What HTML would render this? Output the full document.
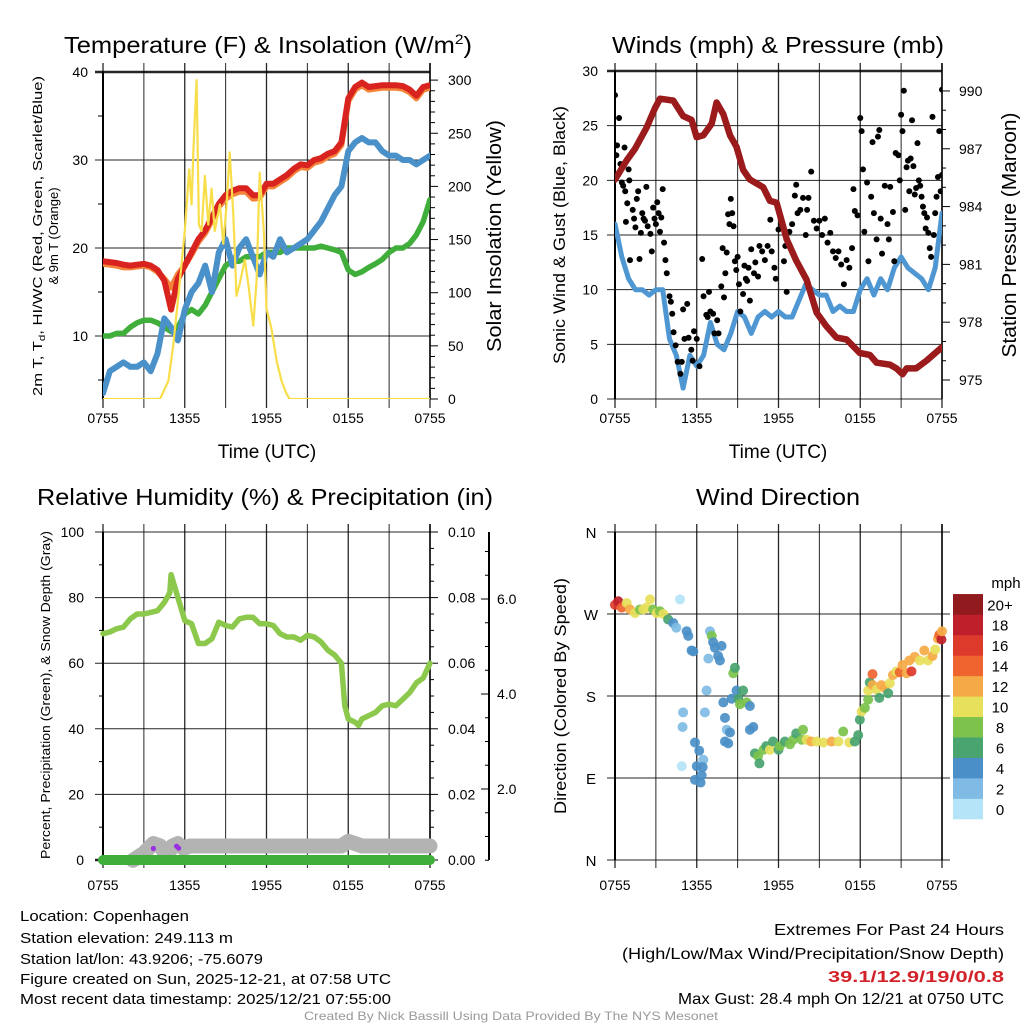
<!DOCTYPE html>
<html><head><meta charset="utf-8"><title>Station Meteogram</title>
<style>
html,body{margin:0;padding:0;background:#fff;}
svg{display:block;font-family:"Liberation Sans",Arial,sans-serif;}
</style></head>
<body>
<svg id="fig" width="1024" height="1024" viewBox="0 0 1024 1024" xmlns="http://www.w3.org/2000/svg">
<defs>
<clipPath id="cTL"><rect x="103" y="72" width="327" height="327"/></clipPath>
<clipPath id="cTR"><rect x="615" y="71" width="327" height="328"/></clipPath>
<clipPath id="cBL"><rect x="90" y="532" width="352" height="336"/></clipPath>
<clipPath id="cBR"><rect x="608" y="532" width="340" height="328"/></clipPath>
</defs>
<rect width="1024" height="1024" fill="#fff"/>

<text x="268" y="53" font-size="23" text-anchor="middle" textLength="408" lengthAdjust="spacingAndGlyphs">Temperature (F) &amp; Insolation (W/m<tspan font-size="14" dy="-9">2</tspan><tspan dy="9">)</tspan></text>
<text x="778" y="53" font-size="23" text-anchor="middle" textLength="332" lengthAdjust="spacingAndGlyphs">Winds (mph) &amp; Pressure (mb)</text>
<text x="265" y="505" font-size="23" text-anchor="middle" textLength="456" lengthAdjust="spacingAndGlyphs">Relative Humidity (%) &amp; Precipitation (in)</text>
<text x="778" y="505" font-size="23" text-anchor="middle" textLength="164" lengthAdjust="spacingAndGlyphs">Wind Direction</text>

<g id="TL"></g>
<g id="TR"></g>
<g id="BL"></g>
<g id="BR"></g>

<!-- axis titles -->
<text transform="translate(42,236) rotate(-90)" font-size="13" text-anchor="middle" textLength="320" lengthAdjust="spacingAndGlyphs">2m T, T<tspan font-size="9" dy="3">d</tspan><tspan dy="-3">, HI/WC (Red, Green, Scarlet/Blue)</tspan></text>
<text transform="translate(58,236) rotate(-90)" font-size="13" text-anchor="middle">&amp; 9m T (Orange)</text>
<text transform="translate(501,236) rotate(-90)" font-size="20" text-anchor="middle" textLength="232" lengthAdjust="spacingAndGlyphs">Solar Insolation (Yellow)</text>
<text x="267" y="458" font-size="19" text-anchor="middle">Time (UTC)</text>
<text transform="translate(565,235) rotate(-90)" font-size="17" text-anchor="middle" textLength="258" lengthAdjust="spacingAndGlyphs">Sonic Wind &amp; Gust (Blue, Black)</text>
<text transform="translate(1016,235) rotate(-90)" font-size="20" text-anchor="middle" textLength="245" lengthAdjust="spacingAndGlyphs">Station Pressure (Maroon)</text>
<text x="778" y="458" font-size="19" text-anchor="middle">Time (UTC)</text>
<text transform="translate(50,695) rotate(-90)" font-size="13" text-anchor="middle" textLength="328" lengthAdjust="spacingAndGlyphs">Percent, Precipitation (Green), &amp; Snow Depth (Gray)</text>
<text transform="translate(566,696) rotate(-90)" font-size="17" text-anchor="middle" textLength="236" lengthAdjust="spacingAndGlyphs">Direction (Colored By Speed)</text>

<!-- footer -->
<g font-size="15">
<text x="20" y="921" textLength="169" lengthAdjust="spacingAndGlyphs">Location: Copenhagen</text>
<text x="20" y="943" textLength="213" lengthAdjust="spacingAndGlyphs">Station elevation: 249.113 m</text>
<text x="20" y="964" textLength="243" lengthAdjust="spacingAndGlyphs">Station lat/lon: 43.9206; -75.6079</text>
<text x="20" y="984" textLength="371" lengthAdjust="spacingAndGlyphs">Figure created on Sun, 2025-12-21, at 07:58 UTC</text>
<text x="20" y="1004" textLength="371" lengthAdjust="spacingAndGlyphs">Most recent data timestamp: 2025/12/21 07:55:00</text>
</g>
<g font-size="16" text-anchor="end">
<text x="1004" y="935" textLength="230" lengthAdjust="spacingAndGlyphs">Extremes For Past 24 Hours</text>
<text x="1004" y="959" textLength="382" lengthAdjust="spacingAndGlyphs">(High/Low/Max Wind/Precipitation/Snow Depth)</text>
<text x="1004" y="982" fill="#d32229" font-weight="bold" textLength="176" lengthAdjust="spacingAndGlyphs">39.1/12.9/19/0/0.8</text>
<text x="1004" y="1004" textLength="326" lengthAdjust="spacingAndGlyphs">Max Gust: 28.4 mph On 12/21 at 0750 UTC</text>
</g>
<text x="511" y="1020" font-size="12" fill="#999" text-anchor="middle" textLength="414" lengthAdjust="spacingAndGlyphs">Created By Nick Bassill Using Data Provided By The NYS Mesonet</text>
</svg>

<script>
// ---------- DATA ----------
const timeLabels = ["0755","1355","1955","0155","0755"];
const halfHours = Array.from({length:49},(_, i)=>i*0.5);

const tempRed = [18.5,18.4,18.3,18.1,18,18.1,18.2,18,17.5,16.3,13,16.5,18,19.5,21,22,23.5,25,26,26.5,26.8,26.8,26,26,27.3,27.3,27.8,28.3,29,29.5,29.4,30,30.2,30.7,31,32,37,38.3,38.8,38.3,38.4,38.5,38.5,38.5,38.4,38,37.3,38.3,38.5];
const temp9mOrange = [18.2,18.1,18,17.8,17.8,17.9,18,17.8,17.3,16.5,15.5,17,18,19.3,20.7,21.7,23.2,24.7,25.6,26.1,26.4,26.4,25.6,25.7,27,27,27.5,28,28.7,29.2,29.1,29.7,29.9,30.4,30.7,31.7,36.7,38,38.5,38,38.1,38.2,38.2,38.2,38.1,37.7,37,38,38.2];
const dewGreen = [10,10,10.3,10.3,11,11.5,11.8,11.8,11.5,11,10.5,11,12.5,13,12.5,13.5,15,16.5,18,18.5,18.5,19,19,19,19.5,19.5,19.5,20,20,20,20,20,20.2,20,19.8,19.5,17.5,17,17.3,17.8,18.2,18.7,19.5,20,20,20.5,21.5,23,25.5];
const windChillBlue = [3.5,6,6.5,7,6.5,6.5,7,6,8,12,11,9.5,13,15,16,18,15,19.5,21,18,20,21,19,17,19.5,19,21,19.5,20,20.5,21,22,23,24.5,26,27,31,32,32.5,32,32,31,30.5,30.5,30,30,29.5,30,30.5];

const solarT = [0,4.18,4.8,5.16,5.65,6.0,6.33,6.5,6.63,6.87,7.04,7.24,7.48,7.73,7.97,8.2,8.58,8.83,9.07,9.3,9.56,9.8,10.05,10.4,10.66,11.03,11.27,11.5,11.8,12.0,12.37,12.74,13.1,13.47,13.7,24];
const solarV = [0,0,17,51,112,158,216,183,232,300,164,158,210,164,198,158,183,146,183,232,174,97,109,131,109,69,112,213,158,85,66,36,17,5,0,0];

const windBlue = [16,13,11,10,10,9.5,10,10,5.5,4,1,4,3,4,7,5,4.5,6,8,7.5,6,7.5,8,7.5,8,7.5,7.5,9,10.5,10,9.5,9.5,8,8.5,8,8,10,11,9.5,11,10,12,13,12,11.5,11,10,12,17];

const pressT = [0,0.86,1.47,2.32,2.93,3.3,4.28,5.0,5.62,5.99,6.48,7.1,7.46,7.95,8.44,8.92,9.41,9.9,10.88,11.37,11.86,12.6,13.3,14.06,14.8,15.5,16.26,17.0,17.97,18.7,19.2,20.17,20.66,21.1,21.4,22.1,22.86,24];
const pressV = [985.4,986.4,987.0,988.1,989.1,989.6,989.5,988.7,988.5,987.6,987.7,988.3,989.4,988.8,987.7,987.1,985.9,985.4,985.0,984.3,984.2,982.3,981.2,980.2,978.5,977.8,977.2,977.1,976.4,976.3,975.9,975.8,975.6,975.3,975.6,975.6,976.0,976.7];

const gustT = [0,0.1,0.15,0.3,0.4,0.5,0.6,0.7,0.75,0.8,0.9,1.0,1.05,1.1,1.3,1.4,1.5,1.6,1.7,1.8,1.9,2.0,2.1,2.2,2.3,2.4,2.6,2.7,2.8,2.9,3.0,3.1,3.2,3.3,3.4,3.5,3.6,3.7,3.8,4.0,4.1,4.2,4.3,4.45,4.6,4.8,4.9,5.0,5.1,5.3,5.4,5.6,5.7,5.8,6.0,6.2,6.4,6.5,6.7,6.8,6.9,7.0,7.2,7.3,7.5,7.6,7.8,7.9,8.0,8.1,8.2,8.3,8.4,8.5,8.6,8.7,8.8,8.9,9.0,9.1,9.2,9.4,9.5,9.6,9.7,9.8,9.9,10.0,10.2,10.3,10.5,10.6,10.8,11.0,11.2,11.4,11.5,11.7,11.8,12.0,12.2,12.4,12.5,12.6,12.8,13.0,13.2,13.3,13.4,13.6,13.8,14.0,14.1,14.2,14.4,14.6,14.8,15.0,15.2,15.4,15.6,15.8,16.0,16.2,16.4,16.6,16.8,17.0,17.2,17.4,17.5,17.6,17.8,18.0,18.1,18.2,18.3,18.5,18.6,18.8,18.9,19.0,19.2,19.3,19.4,19.5,19.6,19.8,20.0,20.1,20.2,20.4,20.5,20.6,20.8,20.9,21.0,21.1,21.2,21.3,21.4,21.5,21.6,21.7,21.8,21.9,22.0,22.1,22.2,22.3,22.4,22.5,22.6,22.7,22.8,22.9,23.0,23.1,23.2,23.3,23.4,23.5,23.6,23.7,23.8,23.9,24.0,24.0];
const gustV = [27.8,22.3,23.2,25.7,21.5,19.8,19.5,23,19,16.2,17.9,21,20,12.7,17.3,16.5,15.7,18.3,19,12.8,15.2,17,16.5,16.3,19.4,15.8,15.1,13.5,17.5,16.5,16,18,17,15.3,16.6,19.2,14.3,12.7,11.5,9.4,8.9,7.8,6.1,4.9,3.4,2.3,3.4,8.2,5.5,8.7,5.6,4.5,3.5,6.2,5.5,3,12.8,9.4,7.7,7.5,9.8,8,7.8,6,7.2,6,10.3,13.8,9.3,11.5,13.4,16.9,16,18.3,17,15.8,12.6,11.8,13,10.5,8,9.6,12.2,11,10.8,12,9,13.7,11.5,12.5,11.2,14,13.5,12.7,14,16.4,13.5,12,11,15.5,16,12.6,14,9.8,15.3,16,18.6,19.6,17,17.3,18.4,15,17.3,18.4,20.8,16.3,15.6,16.3,15,16.5,14.3,15.2,13.5,12.9,13.5,12.3,10.5,12.7,12,13.8,19.2,17.2,16.8,25.7,24.5,21,15.3,19.8,12.6,18.5,23.5,17,14.6,24,24.6,16.5,13.3,19.5,16,14.6,19.4,17.1,12.6,22.5,22.3,20,26,24.5,28.2,17.3,21.2,21.8,19,22,25.5,21.3,18.7,19.3,23.4,20,19.5,18.5,17.6,17,15.6,16.6,15.2,13.8,13,25.8,15,17,18.5,20.3,24.5,19,28.3,20.5];

const rhT = [0,0.5,1,1.5,2,2.5,3,3.5,4,4.5,4.9,5,5.5,6,6.5,7,7.5,8,8.5,9,9.5,10,10.5,11,11.5,12,12.5,13,13.5,14,14.5,15,15.5,16,16.5,17,17.5,17.75,18,18.5,18.75,19,19.5,20,20.5,21,21.5,22,22.5,23,23.5,24];
const rhV = [69,69.5,70.5,71,73.5,75,75,75.5,76,78.5,81.5,87,80,73,72,66,66,67.5,72.5,71.5,71,73.5,74,74,72,72,71.5,69,68,68,67,68.5,68,66.5,64,62.5,60,47,43,42,41,43,44,45,47,47.5,47,49,51,54,55.5,60];

const snowT = [2.2,3.0,3.7,4.2,4.7,5.1,5.5,5.9,6.4,17.5,18.0,18.5,19.0,24];
const snowV = [0.5,0.65,0.85,0.8,0.6,0.8,0.85,0.75,0.8,0.8,0.9,0.85,0.8,0.8];
const precipT = [0,24];
const precipV = [0,0];
const purpleT = [3.7,5.4,5.55];
const purpleV = [3.5,4.2,3.6];

const dirT = [0,0.24,0.49,0.86,1.1,1.47,1.83,2.08,2.3,2.57,2.8,3.06,3.3,3.55,3.9,4.28,4.5,4.77,5.26,5.38,5.62,5.75,5.0,4.96,4.9,5.87,6.18,6.0,6.48,6.43,6.36,5.87,6.28,6.72,6.6,6.85,6.97,7.1,7.2,7.33,7.57,7.82,7.7,7.95,8.07,8.2,8.44,8.07,8.31,8.56,8.68,8.8,8.92,9.05,9.17,9.4,9.66,9.9,10.15,9.9,10.27,10.5,10.6,10.9,11.1,11.37,11.6,12.0,12.1,12.47,12.84,13.08,13.3,13.8,13.7,14.06,14.4,14.8,15.3,15.9,16.4,16.75,17.2,17.6,17.85,17.97,18.1,18.34,18.58,18.58,18.7,18.9,18.9,19.2,19.4,19.56,19.8,20.05,20.17,20.4,20.66,20.9,21.1,21.4,21.6,21.76,22.0,22.37,22.7,22.98,23.3,23.5,23.7,23.8,23.96,24];
const dirDeg = [280,284,277,282,275,271,275,275,277,286,275,271,273,270,264,260,255,286,251,246,230,229,162,146,103,129,120,103,110,102,93,88,85,186,162,221,251,246,239,233,224,235,219,173,156,143,140,130,128,177,205,211,186,177,171,186,173,169,146,143,117,114,106,121,125,121,130,121,125,130,127,132,139,143,132,132,130,130,129,130,130,141,129,130,137,154,163,167,176,186,195,204,192,187,178,192,189,183,194,203,207,206,214,205,219,207,223,219,230,219,224,231,243,247,242,251];
const dirSpd = [16,18,14,10,12,10,8,10,10,10,8,10,8,10,6,4,3,1,4,4,4,4,2,2,1,4,4,4,3,4,4,4,4,3,3,3,3,8,4,4,4,4,4,4,4,3,4,4,4,4,8,7,4,6,8,6,8,4,4,4,7,8,6,8,7,10,6,6,8,6,8,8,6,8,8,10,12,10,10,12,10,8,10,6,6,6,10,8,8,10,6,15,12,10,6,12,12,6,10,12,10,15,12,12,12,17,12,10,12,10,12,10,12,14,18,12];

const speedColors = ["#b5e4f8","#7fbbe4","#4a8fc7","#49a46f","#7cc24b","#e7e05a","#f6aa47","#ef642f","#dd3a2c","#bf1f2a","#901a1e"];
const speedLabels = ["0","2","4","6","8","10","12","14","16","18","20+"];

// ---------- HELPERS ----------
const NS="http://www.w3.org/2000/svg";
function mk(parent,tag,attrs){const e=document.createElementNS(NS,tag);for(const k in attrs)e.setAttribute(k,attrs[k]);parent.appendChild(e);return e;}
function hx(x0){return h=>x0+h*327/24;}
function pathFrom(ts,vs,X,Y){let d="";for(let i=0;i<ts.length;i++){d+=(i?"L":"M")+X(ts[i]).toFixed(1)+","+Y(vs[i]).toFixed(1);}return d;}

function timeGrid(g,X,yTop,yBot,tickTop,tickBot,labelY){
  for(let h=0;h<=24;h+=3){
    const l=mk(g,"line",{x1:X(h),x2:X(h),y1:tickTop,y2:tickBot,stroke:"#000","stroke-width":(h%6===0)?1.3:1,"stroke-opacity":0.85});
    
    
  }
  timeLabels.forEach((t,i)=>{
    const tx=mk(g,"text",{x:X(i*6),y:labelY,"font-size":14,"text-anchor":"middle"});
    tx.textContent=t;
    
    
  });
}
function hGrid(g,x1,x2,y,strong){
  const l=mk(g,"line",{x1:x1,x2:x2,y1:y,y2:y,stroke:"#000","stroke-width":strong?2.5:1,"stroke-opacity":0.85});
  
  
}
function label(g,x,y,txt,anchor,name,size){
  const t=mk(g,"text",{x:x,y:y,"font-size":size||14,"text-anchor":anchor});
  t.textContent=txt;
  
  
  return t;
}
function tick(g,x1,y1,x2,y2,w){
  const l=mk(g,"line",{x1:x1,y1:y1,x2:x2,y2:y2,stroke:"#000","stroke-width":w||1});
  
  
}
function vline(g,x,y1,y2,w,name){
  const l=mk(g,"line",{x1:x,x2:x,y1:y1,y2:y2,stroke:"#000","stroke-width":w});
  
  
}
function series(g,ts,vs,X,Y,color,w,clip,name){
  const p=mk(g,"path",{d:pathFrom(ts,vs,X,Y),fill:"none",stroke:color,"stroke-width":w,"stroke-linejoin":"round","stroke-linecap":"round","clip-path":clip});
  
  
  return p;
}

// ---------- TOP LEFT ----------
(function(){
  const g=document.getElementById("TL");
  const X=hx(103), Y=v=>72+(40-v)*8.8, YS=v=>399-v*1.063;
  timeGrid(g,X,72,399,63,408,423);
  [10,20,30,40].forEach(v=>{hGrid(g,95,430,Y(v),v===40);label(g,88,Y(v)+5,String(v),"end","temp-y-tick-label");});
  [5,15,25,35].forEach(v=>tick(g,98,Y(v),103,Y(v)));
  vline(g,103,72,399,2,"temp-left-axis");
  vline(g,430,63,399,1.5,"solar-right-axis");
  for(let v=0;v<=300;v+=10){const major=v%50===0;tick(g,430,YS(v),major?438:435,YS(v));}
  for(let v=0;v<=300;v+=50)label(g,448,YS(v)+5,String(v),"start","solar-y-tick-label");
  series(g,halfHours,temp9mOrange,X,Y,"#f5843a",6,"url(#cTL)","temp-9m-orange-line");
  series(g,halfHours,tempRed,X,Y,"#d9231f",6,"url(#cTL)","temp-2m-red-line");
  series(g,halfHours,dewGreen,X,Y,"#3fae3a",5.5,"url(#cTL)","dewpoint-green-line");
  series(g,halfHours,windChillBlue,X,Y,"#4a90c9",6,"url(#cTL)","windchill-blue-line");
  series(g,solarT,solarV,X,YS,"#f8de4a",2.2,"url(#cTL)","solar-yellow-line");
})();

// ---------- TOP RIGHT ----------
(function(){
  const g=document.getElementById("TR");
  const X=hx(615), Y=v=>399-v*10.933, YP=p=>380-(p-975)*19.27;
  timeGrid(g,X,71,399,63,408,423);
  for(let v=0;v<=30;v+=5){hGrid(g,607,942,Y(v),v===30);label(g,598,Y(v)+5,String(v),"end","wind-y-tick-label");}
  vline(g,615,71,399,2,"wind-left-axis");
  vline(g,942,63,399,1.5,"pressure-right-axis");
  for(let p=975;p<=990;p++){const major=(p-975)%3===0;tick(g,942,YP(p),major?950:946,YP(p));}
  for(let p=975;p<=990;p+=3)label(g,959,YP(p)+5,String(p),"start","pressure-y-tick-label");
  series(g,halfHours,windBlue,X,Y,"#4e97d2",5,"url(#cTR)","sonic-wind-blue-line");
  for(let i=0;i<gustT.length;i++){
    const c=mk(g,"circle",{cx:X(gustT[i]),cy:Y(gustV[i]),r:3,fill:"#000","clip-path":"url(#cTR)"});
    
    
  }
  series(g,pressT,pressV,X,YP,"#9b1a1c",6.5,"url(#cTR)","pressure-maroon-line");
})();

// ---------- BOTTOM LEFT ----------
(function(){
  const g=document.getElementById("BL");
  const X=hx(103), Y=v=>860-v*3.28, YP=p=>860-p*3280, YSn=s=>884-s*47.5;
  timeGrid(g,X,532,860,524,868,890);
  for(let v=0;v<=100;v+=20){hGrid(g,95,430,Y(v),v===0);label(g,84,Y(v)+5,String(v),"end","rh-y-tick-label");}
  for(let v=10;v<100;v+=20)tick(g,99,Y(v),103,Y(v));
  vline(g,103,532,860,2,"rh-left-axis");
  vline(g,430,524,860,1.5,"precip-right-axis");
  for(let p=0;p<=0.1001;p+=0.005){const major=Math.round(p*1000)%20===0;tick(g,430,YP(p),major?438:434,YP(p));}
  for(let k=0;k<=5;k++)label(g,448,YP(k*0.02)+5,(k*0.02).toFixed(2),"start","precip-y-tick-label");
  vline(g,489,532,860,2,"snow-depth-axis");
  for(let s=0.5;s<=7;s+=0.5){const y=YSn(s);if(y>=532){tick(g,489,y,(s%2===0)?481:485,y);}}
  [2,4,6].forEach(s=>label(g,497,YSn(s)+5,s.toFixed(1),"start","snow-y-tick-label"));
  series(g,snowT,snowV,X,YSn,"#b3b3b3",15,"url(#cBL)","snow-depth-gray-line");
  series(g,precipT,precipV,X,YP,"#3fae3a",10,"url(#cBL)","precip-green-line");
  for(let i=0;i<purpleT.length;i++){
    const c=mk(g,"circle",{cx:X(purpleT[i]),cy:Y(purpleV[i]),r:2.6,fill:"#9b30e0"});
    
    
  }
  series(g,rhT,rhV,X,Y,"#8cc84b",5.5,"url(#cBL)","rh-green-line");
})();

// ---------- BOTTOM RIGHT ----------
(function(){
  const g=document.getElementById("BR");
  const X=hx(615), Y=d=>860-d*328/360;
  timeGrid(g,X,532,860,524,868,890);
  const dirNames=["N","E","S","W","N"];
  dirNames.forEach((n,i)=>{hGrid(g,607,950,Y(i*90),false);label(g,591,Y(i*90)+6,n,"middle","direction-tick-label",15);});
  vline(g,615,532,860,2,"direction-left-axis");
  vline(g,942,524,860,1.5,"direction-right-axis");
  for(let i=0;i<dirT.length;i++){
    const idx=Math.min(10,Math.floor(dirSpd[i]/2));
    const c=mk(g,"circle",{cx:X(dirT[i]),cy:Y(dirDeg[i]),r:5,fill:speedColors[idx],"fill-opacity":0.92,"clip-path":"url(#cBR)"});
    
    
  }
  const bh=20.45;
  speedColors.forEach((col,i)=>{
    const y=819-(i+1)*bh;
    const r=mk(g,"rect",{x:953,y:y,width:30,height:bh+0.3,fill:col});
    
    
    label(g,1000,y+bh/2+6,speedLabels[i],"middle","colorbar-label",15);
  });
  label(g,1006,588,"mph","middle","colorbar-title",15);
})();
</script>
</body></html>
